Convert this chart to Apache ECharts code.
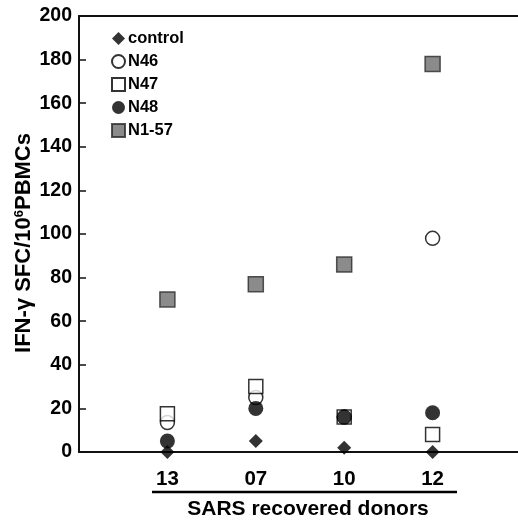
<!DOCTYPE html>
<html>
<head>
<meta charset="utf-8">
<script src="https://cdn.jsdelivr.net/npm/echarts@6/dist/echarts.min.js"></script>
<style>
  html, body { margin: 0; padding: 0; background: #fff; }
  #chart { width: 518px; height: 520px; }
</style>
</head>
<body>
<div id="chart"></div>
<script>
// donors along x ('' pads the two ends)
var donors = ["", "13", "07", "10", "12", ""];
var yTicks = [0, 20, 40, 60, 80, 100, 120, 140, 160, 180, 200];

// values per donor (13, 07, 10, 12)
var control = [0, 5, 2, 0];
var n46 = [13.5, 25, 16, 98];
var n47 = [17.5, 30, 16, 8];
var n48 = [5, 20, 16, 18];
var n157 = [70, 77, 86, 178];

function pts(arr) {
  // put each value on its donor slot
  return arr.map(function (v, i) {
    return [donors[i + 1], v];
  });
}

var font = "Liberation Sans, Arial, sans-serif";
var myChart = echarts.init(document.getElementById("chart"));

myChart.setOption({
  animation: false,
  grid: { left: 79, top: 16, right: -3, bottom: 68, outerBoundsMode: "none", containLabel: false },
  legend: {
    orient: "vertical",
    left: 106,
    top: 25,
    itemWidth: 13,
    itemHeight: 13,
    itemGap: 6,
    textStyle: { fontFamily: font, fontWeight: "bold", fontSize: 16.5, color: "#000", padding: [0, 0, 0, -2] },
    data: ["control", "N46", "N47", "N48", "N1-57"],
  },
  xAxis: [
    {
      type: "category",
      data: donors,
      boundaryGap: false,
      axisLine: { lineStyle: { color: "#111", width: 2 } },
      axisTick: { show: false },
      axisLabel: {
        margin: 17,
        fontFamily: font,
        fontWeight: "bold",
        fontSize: 20.5,
        color: "#000",
      },
      name: "SARS recovered donors",
      nameLocation: "middle",
      nameGap: 47,
      nameMoveOverlap: false,
      nameTextStyle: { fontFamily: font, fontWeight: "bold", fontSize: 21, color: "#000", padding: [0, 0, 0, 16] },
    },
    {
      // top border line
      type: "category",
      data: donors,
      position: "top",
      boundaryGap: false,
      axisLine: { lineStyle: { color: "#111", width: 2 } },
      axisTick: { show: false },
      axisLabel: { show: false },
    },
  ],
  yAxis: {
    type: "value",
    min: 0,
    max: 200,
    interval: 20,
    axisLine: { show: true, lineStyle: { color: "#111", width: 2 } },
    axisTick: { show: true, inside: true, length: 7, lineStyle: { color: "#111", width: 1.5 } },
    splitLine: { show: false },
    axisLabel: {
      margin: 7,
      fontFamily: font,
      fontWeight: "bold",
      fontSize: 19.5,
      color: "#000",
      formatter: function (v) {
        return yTicks.indexOf(v) >= 0 ? String(v) : "";
      },
    },
    name: "{a|IFN-γ SFC/10}{s|6}{a|PBMCs}",
    nameLocation: "middle",
    nameGap: 44,
    nameMoveOverlap: false,
    nameRotate: 90,
    nameTextStyle: {
      padding: [0, 18, 0, 0],
      rich: {
        a: { fontFamily: font, fontWeight: "bold", fontSize: 22, color: "#000" },
        s: { fontFamily: font, fontWeight: "bold", fontSize: 13, color: "#000", verticalAlign: "top", padding: [0, 0, 9, 0] },
      },
    },
  },
  graphic: [
    {
      type: "line",
      shape: { x1: 152, y1: 492, x2: 457, y2: 492 },
      style: { stroke: "#000", lineWidth: 2.5 },
    },
  ],
  series: [
    {
      name: "control",
      type: "scatter",
      symbol: "diamond",
      symbolSize: 14,
      itemStyle: { color: "#000" },
      data: pts(control),
    },
    {
      name: "N46",
      type: "scatter",
      symbol: "circle",
      symbolSize: 14,
      itemStyle: { color: "#fff", borderColor: "#000", borderWidth: 1.5 },
      data: pts(n46),
    },
    {
      name: "N47",
      type: "scatter",
      symbol: "rect",
      symbolSize: 14,
      itemStyle: { color: "#fff", borderColor: "#000", borderWidth: 1.5 },
      data: pts(n47),
    },
    {
      name: "N48",
      type: "scatter",
      symbol: "circle",
      symbolSize: 15,
      itemStyle: { color: "#000" },
      data: pts(n48),
    },
    {
      name: "N1-57",
      type: "scatter",
      symbol: "rect",
      symbolSize: 15,
      itemStyle: { color: "#6e6e6e", borderColor: "#2a2a2a", borderWidth: 1.5 },
      data: pts(n157),
    },
  ],
});
</script>
</body>
</html>
